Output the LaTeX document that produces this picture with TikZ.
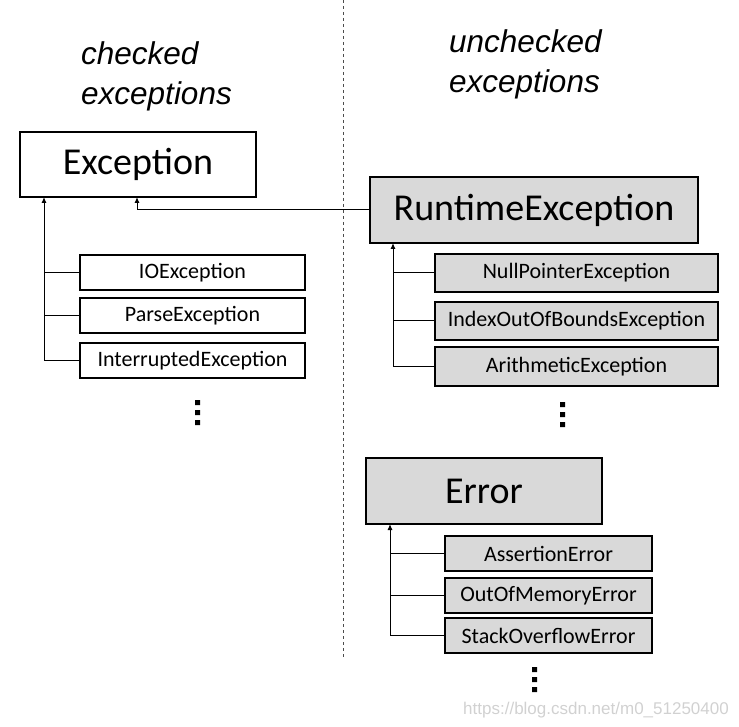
\documentclass[tikz,border=0pt]{standalone}
\usepackage{fontspec}
\setmainfont{Carlito}
\newfontfamily\headfont{Liberation Sans}
\usetikzlibrary{arrows.meta}

\begin{document}
\begin{tikzpicture}[x=1pt,y=-1pt,
	bigbox/.style={draw,line width=2pt,inner sep=0pt,font=\fontsize{38}{42}\selectfont},
	smallbox/.style={draw,line width=2pt,inner sep=0pt,font=\fontsize{22}{26}\selectfont},
	grey/.style={fill=black!15},
	conn/.style={line width=1pt},
	arr/.style={conn,-{Latex[length=6pt,width=5pt]}},
	heading/.style={align=left,anchor=north west,inner sep=0pt,font=\headfont\itshape\fontsize{31.5}{40}\selectfont}]
	\useasboundingbox (0,0) rectangle (739,727);
	% divider
	\draw[dashed,line width=0.7pt,black!70] (343,0) -- (343,658);
	\node[heading] (chk) at (81,41) {checked\\exceptions};
	\node[heading] (unchk) at (449,29) {unchecked\\exceptions};
	% checked side
	\node[bigbox,fill=white,minimum width=236,minimum height=65] (exc) at (138,164.5) {Exception};
	\node[smallbox,minimum width=225,minimum height=35] (io) at (192.5,272.5) {IOException};
	\node[smallbox,minimum width=225,minimum height=35] (parse) at (192.5,315.5) {ParseException};
	\node[smallbox,minimum width=225,minimum height=35] (intr) at (192.5,360.5) {InterruptedException};
	\coordinate (excl) at (44,197);
	\draw[arr] (intr.west) -| (excl);
	\draw[conn] (io.west) -- (io.west -| excl);
	\draw[conn] (parse.west) -- (parse.west -| excl);
	\fill (195,400) rectangle ++(5,5) (195,410) rectangle ++(5,5) (195,420) rectangle ++(5,5);
	% runtime exceptions
	\node[bigbox,grey,minimum width=328,minimum height=66] (rt) at (534,210) {RuntimeException};
	\node[smallbox,grey,minimum width=283,minimum height=38] (npe) at (576.5,273) {NullPointerException};
	\node[smallbox,grey,minimum width=283,minimum height=38] (ioob) at (576.5,321) {IndexOutOfBoundsException};
	\node[smallbox,grey,minimum width=283,minimum height=39] (arith) at (576.5,366.5) {ArithmeticException};
	\coordinate (rtl) at (393,243);
	\draw[arr] (arith.west) -| (rtl);
	\draw[conn] (npe.west) -- (npe.west -| rtl);
	\draw[conn] (ioob.west) -- (ioob.west -| rtl);
	\draw[arr] (rt.west) -| (137,197);
	\fill (560,402) rectangle ++(5,5) (560,412) rectangle ++(5,5) (560,422) rectangle ++(5,5);
	% errors
	\node[bigbox,grey,minimum width=236,minimum height=66] (err) at (484,491) {Error};
	\node[smallbox,grey,minimum width=207,minimum height=35] (assert) at (548.5,553.5) {AssertionError};
	\node[smallbox,grey,minimum width=207,minimum height=35] (oom) at (548.5,595.5) {OutOfMemoryError};
	\node[smallbox,grey,minimum width=207,minimum height=35] (soe) at (548.5,635.5) {StackOverflowError};
	\coordinate (errl) at (390,524);
	\draw[arr] (soe.west) -| (errl);
	\draw[conn] (assert.west) -- (assert.west -| errl);
	\draw[conn] (oom.west) -- (oom.west -| errl);
	\fill (532,667) rectangle ++(5,5) (532,677) rectangle ++(5,5) (532,687) rectangle ++(5,5);
	\node[anchor=east,inner sep=0pt,text=black!18,font=\headfont\fontsize{17}{20}\selectfont] (wm) at (729,710) {https://blog.csdn.net/m0\_51250400};
\end{tikzpicture}
\end{document}
